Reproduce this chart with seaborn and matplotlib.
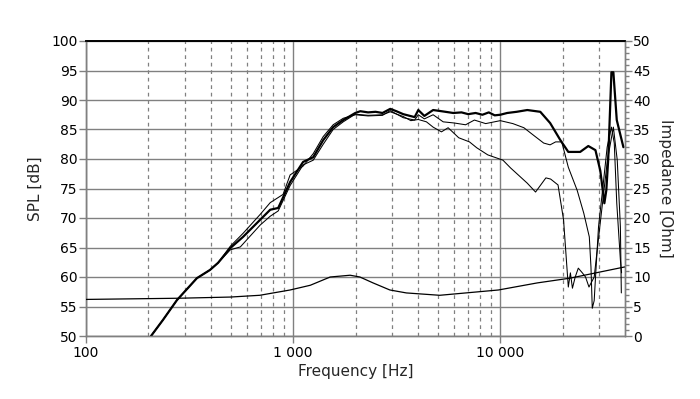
import numpy as np
import pandas as pd
import matplotlib
matplotlib.use("Agg")
import matplotlib.pyplot as plt
import seaborn as sns
from matplotlib.ticker import FixedLocator, FuncFormatter, MultipleLocator, NullFormatter

# ---------------- data ----------------
# main SPL curve (thick)
f_main = [206, 235, 275, 343, 397, 434, 497, 573, 693, 775, 847, 967, 1117, 1250, 1397,
          1560, 1745, 1995, 2110, 2300, 2500, 2700, 2944, 3150, 3400, 3860, 4020, 4300,
          4740, 5200, 5930, 6500, 7000, 7600, 8200, 8800, 9400, 10000, 10800, 12000,
          13500, 15600, 17400, 19500, 21300, 24300, 26600, 28800, 30400, 31300, 31800,
          32500, 33200, 34400, 35150, 36500, 39300]
spl_main = [50.0, 52.7, 56.1, 59.8, 61.2, 62.4, 64.9, 66.8, 69.7, 71.4, 71.7, 76.1, 79.5,
            80.3, 83.2, 85.4, 86.6, 87.8, 88.1, 87.9, 88.0, 87.8, 88.5, 88.1, 87.6, 87.1,
            88.3, 87.3, 88.3, 88.1, 87.8, 87.9, 87.6, 87.8, 87.5, 87.9, 87.4, 87.5, 87.8,
            88.0, 88.3, 88.0, 86.1, 83.2, 81.2, 81.2, 82.2, 81.5, 78.0, 74.5, 72.5, 74.7,
            80.0, 94.7, 94.7, 86.6, 82.0]

# off-axis curve A (thin, upper)
f_a = [206, 235, 275, 343, 397, 434, 497, 573, 693, 775, 894, 967, 1117, 1250, 1397,
       1560, 1745, 1995, 2300, 2700, 2944, 3400, 3860, 4020, 4300, 4740, 5300, 6000,
       6800, 7500, 8500, 10000, 11500, 13000, 14500, 16200, 17400, 18500, 19800, 21300,
       23500, 25300, 26900, 27400, 27800, 28400, 28900, 29800, 31300, 32800, 34400,
       35500, 36500, 38000, 38500]
spl_a = [50.0, 52.7, 56.1, 59.8, 61.2, 62.4, 65.2, 67.4, 70.6, 72.6, 74.0, 77.3, 78.8,
         80.9, 83.8, 85.8, 86.9, 87.5, 87.3, 87.4, 88.2, 87.0, 86.6, 87.5, 86.8, 87.5,
         86.3, 86.1, 85.8, 86.6, 86.0, 86.5, 86.0, 85.3, 84.0, 82.7, 82.4, 82.9, 82.9,
         78.6, 74.7, 70.8, 66.8, 61.7, 54.7, 56.0, 60.7, 68.5, 75.3, 82.0, 85.4, 82.7,
         72.5, 62.9, 60.7]

# off-axis curve B (thin, lower)
f_b = [206, 235, 275, 343, 397, 434, 497, 556, 693, 775, 847, 967, 1117, 1250, 1397,
       1560, 1745, 1995, 2300, 2700, 2944, 3400, 3700, 4020, 4400, 4740, 5200, 5600,
       6300, 7100, 7700, 8700, 10300, 11200, 13500, 14800, 16600, 17500, 19000, 20200,
       21300, 21800, 22300, 23000, 23800, 24900, 25800, 26800, 28400, 30500, 32900,
       35150, 36700, 38000, 38400]
spl_b = [50.0, 52.7, 56.1, 59.8, 61.2, 62.4, 64.6, 65.1, 68.8, 70.3, 71.2, 75.5, 79.0,
         79.8, 82.5, 85.0, 86.3, 87.6, 87.4, 87.5, 88.0, 87.2, 86.5, 86.7, 86.3, 85.4,
         84.6, 85.3, 83.6, 82.9, 81.9, 80.7, 79.8, 78.5, 75.9, 74.4, 76.8, 76.6, 75.6,
         69.7, 58.3, 60.7, 58.1, 60.0, 61.5, 60.7, 60.0, 58.3, 60.0, 69.7, 79.8, 85.4,
         79.8, 68.5, 57.3]

# impedance curve (right axis)
f_imp = [100, 280, 497, 690, 967, 1210, 1510, 1884, 2100, 2430, 2930, 3520, 5100,
         9800, 15100, 21700, 39800]
imp_ohm = [6.2, 6.4, 6.6, 6.9, 7.8, 8.6, 10.0, 10.3, 10.0, 9.0, 7.8, 7.3, 6.9,
           7.8, 9.0, 9.8, 11.7]

x_ticks = [100, 1000, 10000]
x_tick_labels = ["100", "1 000", "10 000"]
x_minor = [200, 300, 400, 500, 600, 700, 800, 900,
           2000, 3000, 4000, 5000, 6000, 7000, 8000, 9000, 20000, 30000]

# ---------------- figure ----------------
sns.set_theme(style="white")
plt.rcParams["font.family"] = ["DejaVu Sans"]

fig = plt.figure(figsize=(7.0, 3.99), dpi=100)
ax = fig.add_axes([86 / 700, 1 - 336 / 399, (625 - 86) / 700, (336 - 41) / 399])
ax2 = ax.twinx()

grey = "#808080"

df_main = pd.DataFrame({"f": f_main, "spl": spl_main})
df_a = pd.DataFrame({"f": f_a, "spl": spl_a})
df_b = pd.DataFrame({"f": f_b, "spl": spl_b})
df_imp = pd.DataFrame({"f": f_imp, "ohm": imp_ohm})

sns.lineplot(data=df_a, x="f", y="spl", ax=ax, color="black", lw=0.75, sort=False, zorder=3)
sns.lineplot(data=df_b, x="f", y="spl", ax=ax, color="black", lw=0.75, sort=False, zorder=3)
sns.lineplot(data=df_main, x="f", y="spl", ax=ax, color="black", lw=1.6, sort=False, zorder=4)
sns.lineplot(data=df_imp, x="f", y="ohm", ax=ax2, color="black", lw=0.9, sort=False, zorder=3)

ax.set_xscale("log")
ax.set_xlim(100, 40000)
ax.set_ylim(50, 100)
ax2.set_ylim(0, 50)

ax.xaxis.set_major_locator(FixedLocator(x_ticks))
ax.xaxis.set_major_formatter(FuncFormatter(lambda v, p: x_tick_labels[x_ticks.index(int(round(v)))] if int(round(v)) in x_ticks else ""))
ax.xaxis.set_minor_locator(FixedLocator(x_minor))
ax.xaxis.set_minor_formatter(NullFormatter())
ax.yaxis.set_major_locator(MultipleLocator(5))
ax2.yaxis.set_major_locator(MultipleLocator(5))
ax2.yaxis.set_minor_locator(MultipleLocator(1))

ax.grid(which="major", axis="both", color=grey, lw=1.0, ls="-")
ax.grid(which="minor", axis="x", color=grey, lw=0.9, ls=(0, (3, 3)))
ax.set_axisbelow(True)
ax2.grid(False)

for a in (ax, ax2):
    for s in ("left", "right", "bottom"):
        a.spines[s].set_color(grey)
        a.spines[s].set_linewidth(1.0)
    a.spines["top"].set_color("black")
    a.spines["top"].set_linewidth(1.2)

ax.tick_params(axis="y", which="major", direction="out", length=5, color=grey, width=1,
               labelsize=10, pad=1, left=True, labelcolor="black")
ax.tick_params(axis="x", which="major", direction="out", length=5, color=grey, width=1,
               labelsize=10, pad=2, bottom=True, labelcolor="black")
ax.tick_params(axis="x", which="minor", bottom=False)
ax2.tick_params(axis="y", which="major", direction="out", length=5, color=grey, width=1,
                labelsize=10, pad=1, right=True, labelcolor="black")
ax2.tick_params(axis="y", which="minor", direction="out", length=3, color=grey, width=1, right=True)

ax.set_xlabel("Frequency [Hz]", fontsize=11, labelpad=3)
ax.set_ylabel("SPL [dB]", fontsize=11, labelpad=6)
ax2.set_ylabel("Impedance [Ohm]", fontsize=11, rotation=270, labelpad=16)

fig.savefig("out.png", dpi=100, facecolor="white")
